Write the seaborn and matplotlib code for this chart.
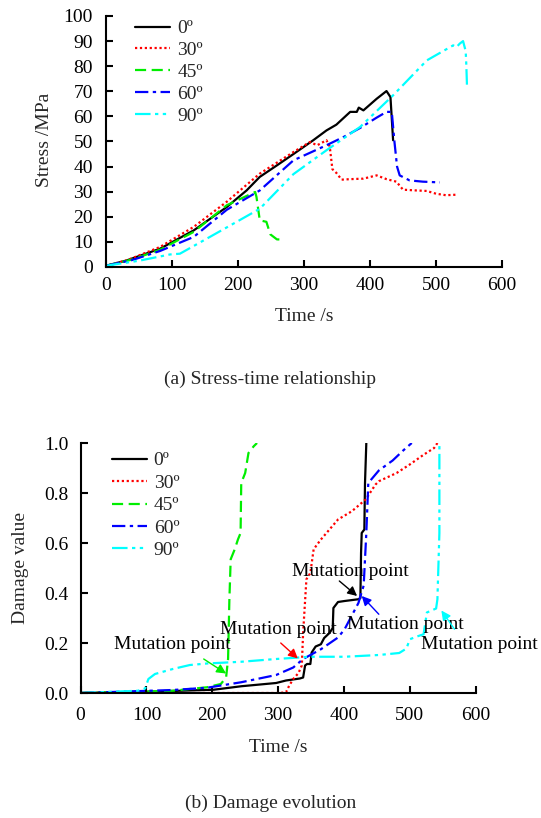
import matplotlib
matplotlib.use("Agg")
import matplotlib.pyplot as plt
import seaborn as sns
import pandas as pd

# ---------------- data ----------------
labels = ["0º", "30º", "45º", "60º", "90º"]

# (a) stress-time
t0 = [0, 30, 82, 133, 183, 213, 233, 259, 284, 314, 334, 349, 370, 380, 383, 390, 410, 425, 431, 435]
s0 = [0.5, 2.5, 7.3, 14.6, 23.9, 30.5, 35.9, 40.5, 45, 50.5, 54.4, 56.7, 61.8, 61.8, 63.5, 62.4, 67, 70.1, 67.7, 50.5]

t30 = [0, 32, 82, 133, 183, 233, 284, 309, 320, 334, 339, 343, 349, 357, 370, 390, 410, 425, 440, 450, 470, 486, 500, 515, 531]
s30 = [0.5, 2.7, 8, 16, 26, 37.2, 45.8, 49.8, 48.5, 50.5, 48, 39, 37.5, 34.8, 35, 35.2, 36.5, 35, 34, 30.8, 30.5, 30.3, 29.2, 28.6, 28.8]

t45 = [0, 40, 82, 133, 183, 226, 228, 233, 243, 249, 259, 271]
s45 = [0.5, 3, 6.9, 14, 24.6, 29.9, 27.9, 18.6, 18, 13, 11, 10.9]

t60 = [0, 40, 82, 133, 183, 233, 284, 334, 360, 385, 410, 425, 433, 437, 441, 445, 460, 480, 506]
s60 = [0.5, 2.8, 6.4, 12, 22.8, 30.5, 42.5, 48.5, 51.8, 55.4, 59.5, 61.8, 61.8, 50, 40, 36.5, 34.5, 34, 33.7]

t90 = [0, 50, 97, 112, 148, 198, 233, 284, 334, 385, 435, 486, 526, 531, 536, 541, 545, 546, 547]
s90 = [0.5, 2.5, 5, 5.3, 10.6, 18, 23.2, 37, 46.5, 55.8, 68.4, 82.3, 88.3, 87.6, 89, 90, 86, 80, 71.7]

# (b) damage evolution
d0_t = [0, 100, 202, 244, 297, 312, 333, 338, 341, 344, 349, 351, 357, 365, 370, 378, 383, 384, 391, 401, 422, 425, 426, 427, 431, 432, 434]
d0 = [0, 0.005, 0.013, 0.027, 0.04, 0.05, 0.058, 0.062, 0.11, 0.116, 0.116, 0.162, 0.186, 0.195, 0.22, 0.24, 0.26, 0.34, 0.364, 0.368, 0.375, 0.38, 0.56, 0.64, 0.654, 0.84, 1.0]

d30_t = [0, 100, 200, 302, 312, 317, 323, 331, 336, 338, 343, 349, 354, 365, 380, 391, 412, 433, 448, 453, 480, 500, 521, 537, 542]
d30 = [0, 0, 0, 0, 0.003, 0.03, 0.056, 0.08, 0.11, 0.24, 0.455, 0.48, 0.575, 0.614, 0.66, 0.694, 0.727, 0.774, 0.834, 0.847, 0.88, 0.914, 0.953, 0.98, 1.0]

d45_t = [0, 87, 140, 192, 213, 221, 224, 226, 228, 234, 239, 243, 244, 250, 255, 263, 268]
d45 = [0, 0.005, 0.009, 0.023, 0.036, 0.062, 0.136, 0.375, 0.535, 0.574, 0.614, 0.64, 0.84, 0.88, 0.96, 0.987, 1.0]

d60_t = [0, 140, 192, 244, 297, 323, 338, 365, 391, 401, 422, 430, 434, 437, 453, 474, 490, 503]
d60 = [0, 0.012, 0.021, 0.043, 0.072, 0.102, 0.136, 0.175, 0.222, 0.255, 0.36, 0.43, 0.64, 0.84, 0.89, 0.93, 0.97, 1.0]

d90_t = [0, 87, 98, 103, 113, 140, 166, 192, 244, 297, 349, 401, 453, 484, 495, 500, 511, 521, 526, 540, 542, 545, 545]
d90 = [0, 0.009, 0.018, 0.056, 0.076, 0.096, 0.112, 0.118, 0.125, 0.136, 0.145, 0.145, 0.152, 0.16, 0.178, 0.215, 0.226, 0.235, 0.322, 0.338, 0.375, 0.64, 1.0]

x_ticks = [0, 100, 200, 300, 400, 500, 600]
stress_ticks = [0, 10, 20, 30, 40, 50, 60, 70, 80, 90, 100]
damage_ticks = [0.0, 0.2, 0.4, 0.6, 0.8, 1.0]
annot_text = "Mutation point"

# ---------------- style ----------------
sns.set_theme(style="ticks")
plt.rcParams["font.family"] = ["Liberation Serif", "DejaVu Serif"]
FS = 14

colors = ["black", "#ff0000", "#00ee00", "#0000ff", "#00ffff"]
styles = ["-", (0, (1, 1.2)), (0, (5, 2.5)), (0, (6, 2, 1.5, 2)), (0, (7, 2, 1.5, 2, 1.5, 2))]

fig = plt.figure(figsize=(5.41, 8.18), dpi=100)
ax1 = fig.add_axes([106 / 541, 1 - 267 / 818, 396 / 541, 251 / 818])
ax2 = fig.add_axes([80.6 / 541, 1 - 693 / 818, 395 / 541, 250 / 818])


def draw(ax, series):
    for (tx, vy), lab, c, ls in zip(series, labels, colors, styles):
        df = pd.DataFrame({"t": tx, "v": vy})
        sns.lineplot(data=df, x="t", y="v", ax=ax, sort=False, estimator=None,
                     color=c, linestyle=ls, linewidth=1.6, label=lab)


def style_axes(ax, xpad, ypad):
    for sp in ["top", "right"]:
        ax.spines[sp].set_visible(False)
    for sp in ["left", "bottom"]:
        ax.spines[sp].set_linewidth(1.5)
        ax.spines[sp].set_color("black")
    ax.tick_params(direction="in", length=5, width=1.5, labelsize=FS, colors="black")
    ax.tick_params(axis="x", pad=xpad)
    ax.tick_params(axis="y", pad=ypad)
    ax.set_xticks(x_ticks)
    ax.set_xlim(0, 600)


draw(ax1, [(t0, s0), (t30, s30), (t45, s45), (t60, s60), (t90, s90)])
style_axes(ax1, 7.5, 9.5)
ax1.set_yticks(stress_ticks)
ax1.set_ylim(0, 100)
ax1.set_xlabel("Time /s", fontsize=FS)
ax1.set_ylabel("Stress /MPa", fontsize=FS)
ax1.xaxis.set_label_coords(0.5, -0.198)
ax1.yaxis.set_label_coords(-0.155, 0.506)
ax1.xaxis.label.set_va("center")
ax1.yaxis.label.set_va("center")
ax1.legend(loc="upper left", bbox_to_anchor=(0.03, 1.055), frameon=False, fontsize=FS,
           handlelength=1.8, labelspacing=0.22, handletextpad=0.35)

draw(ax2, [(d0_t, d0), (d30_t, d30), (d45_t, d45), (d60_t, d60), (d90_t, d90)])
style_axes(ax2, 10, 8.5)
ax2.set_yticks(damage_ticks)
ax2.set_yticklabels([f"{v:.1f}" for v in damage_ticks])
ax2.set_ylim(0, 1.0)
ax2.set_xlabel("Time /s", fontsize=FS)
ax2.set_ylabel("Damage value", fontsize=FS)
ax2.xaxis.set_label_coords(0.5, -0.216)
ax2.yaxis.set_label_coords(-0.152, 0.5)
ax2.xaxis.label.set_va("center")
ax2.yaxis.label.set_va("center")
ax2.legend(loc="upper left", bbox_to_anchor=(0.035, 1.035), frameon=False, fontsize=FS,
           handlelength=1.8, labelspacing=0.25, handletextpad=0.35)

# annotations: (text pos, arrow tail, arrow head, colour)
ann = [
    ((140, 0.195), (187, 0.136), (221, 0.078), colors[2]),
    ((300, 0.255), (304, 0.200), (330, 0.138), colors[1]),
    ((410, 0.488), (393, 0.448), (420, 0.388), colors[0]),
    ((494, 0.275), (453, 0.315), (427, 0.388), colors[3]),
    ((605, 0.195), (568, 0.255), (548, 0.330), colors[4]),
]
for (tp, tail, head, c) in ann:
    ax2.text(tp[0], tp[1], annot_text, fontsize=FS, ha="center", va="center",
             color="black", clip_on=False)
    ax2.annotate("", xy=head, xytext=tail,
                 arrowprops=dict(arrowstyle="-|>", color=c, lw=1.0, mutation_scale=14,
                                 shrinkA=0, shrinkB=0))

fig.text(0.5, 1 - 379 / 818, "(a) Stress-time relationship", ha="center", va="center", fontsize=FS)
fig.text(0.5, 1 - 803 / 818, "(b) Damage evolution", ha="center", va="center", fontsize=FS)

fig.savefig("out.png", dpi=100)
